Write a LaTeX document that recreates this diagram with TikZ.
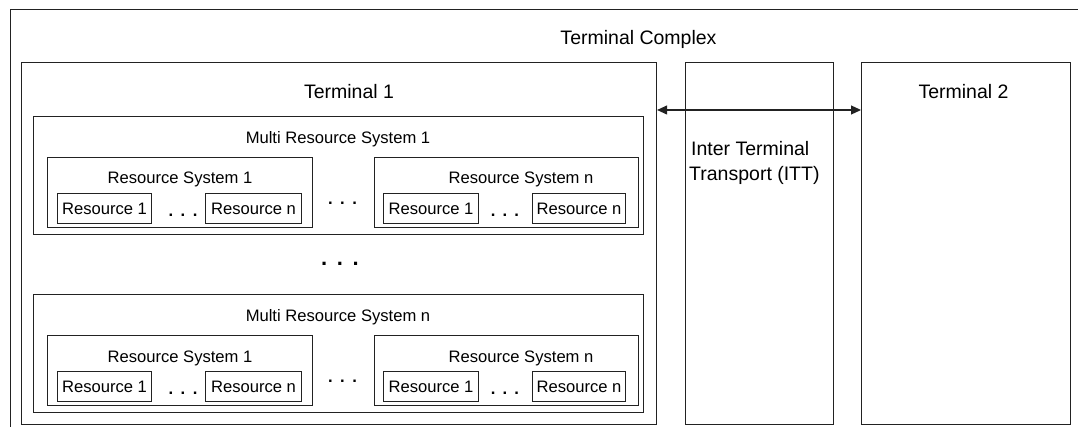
\documentclass[tikz,border=0pt]{standalone}
\usepackage{fontspec}
\setmainfont{Liberation Sans}
\usetikzlibrary{arrows.meta}

\definecolor{linegray}{HTML}{222222}

\tikzset{
  frame/.style={draw=linegray, line width=1.1pt, inner sep=0pt, anchor=north west},
  bigtext/.style={inner sep=0pt, anchor=base, font=\fontsize{19.5}{23}\selectfont},
  smalltext/.style={inner sep=0pt, anchor=base, font=\fontsize{16.6}{20}\selectfont},
  restext/.style={smalltext, anchor=center},
  ellip/.style={inner sep=0pt, anchor=center, font=\bfseries\fontsize{16.6}{20}\selectfont},
  bigellip/.style={inner sep=0pt, anchor=center, font=\bfseries\fontsize{22}{24}\selectfont},
  link/.style={draw=linegray, line width=1.1pt, {Triangle[length=10pt,width=9pt]}-{Triangle[length=10pt,width=9pt]}}
}

% three spaced periods
\newcommand{\spdots}[1]{.\kern#1.\kern#1.}

\begin{document}
\begin{tikzpicture}[x=1pt, y=-1pt]
  \clip (0,0) rectangle (1078,427);

  % terminal complex (runs past the right and bottom edges)
  \node[frame, minimum width=1100pt, minimum height=440pt] (tc) at (10,9) {};
  \node[bigtext] (tclabel) at (638.5,45) {Terminal Complex};

  % terminal 1, inter terminal transport, terminal 2
  \node[frame, minimum width=635pt, minimum height=362pt] (t1) at (21,62) {};
  \node[frame, minimum width=148pt, minimum height=362pt] (itt) at (685,62) {};
  \node[frame, minimum width=209pt, minimum height=362pt] (t2) at (861,62) {};
  \node[bigtext] (t1label) at (349,99) {Terminal 1};
  \node[bigtext] (t2label) at (963.5,99) {Terminal 2};
  \node[bigtext, anchor=base west] (ittlabela) at (691,156) {Inter Terminal};
  \node[bigtext, anchor=base west] (ittlabelb) at (689,181) {Transport (ITT)};

  % link between the terminals
  \coordinate (ay) at (0,110);
  \draw[link] (t1.east |- ay) -- (t2.west |- ay);

  % multi resource system 1
  \node[frame, minimum width=610pt, minimum height=118pt] (mrsa) at (33,116) {};
  \node[smalltext] (mrsalabel) at (338,144) {Multi Resource System 1};
  \node[frame, minimum width=265pt, minimum height=70pt] (rsaa) at (47,157) {};
  \node[frame, minimum width=264pt, minimum height=70pt] (rsan) at (374,157) {};
  \node[smalltext] (rsaalabel) at (180,184) {Resource System 1};
  \node[smalltext] (rsanlabel) at (521,184) {Resource System n};
  \node[frame, minimum width=94pt, minimum height=30pt] (raa1) at (57,193) {};
  \node[frame, minimum width=96pt, minimum height=30pt] (raan) at (205,193) {};
  \node[frame, minimum width=95pt, minimum height=30pt] (ran1) at (383,193) {};
  \node[frame, minimum width=93pt, minimum height=30pt] (rann) at (532,193) {};
  \node[restext] at (raa1) {Resource 1};
  \node[restext] at (raan) {Resource n};
  \node[restext] at (ran1) {Resource 1};
  \node[restext] at (rann) {Resource n};
  \node[ellip] (dotsaa) at (183,215) {\spdots{7.5pt}};
  \node[ellip] (dotsan) at (505,215) {\spdots{7.1pt}};
  \node[ellip] (dotsa) at (342.5,203) {\spdots{7.5pt}};

  % gap between multi resource systems
  \node[bigellip] (dotsmid) at (340,264) {\spdots{9.6pt}};

  % multi resource system n
  \node[frame, minimum width=610pt, minimum height=118pt] (mrsn) at (33,294) {};
  \node[smalltext] (mrsnlabel) at (338,322) {Multi Resource System n};
  \node[frame, minimum width=265pt, minimum height=70pt] (rsna) at (47,335) {};
  \node[frame, minimum width=264pt, minimum height=70pt] (rsnn) at (374,335) {};
  \node[smalltext] (rsnalabel) at (180,362) {Resource System 1};
  \node[smalltext] (rsnnlabel) at (521,362) {Resource System n};
  \node[frame, minimum width=94pt, minimum height=30pt] (rna1) at (57,371) {};
  \node[frame, minimum width=96pt, minimum height=30pt] (rnan) at (205,371) {};
  \node[frame, minimum width=95pt, minimum height=30pt] (rnn1) at (383,371) {};
  \node[frame, minimum width=93pt, minimum height=30pt] (rnnn) at (532,371) {};
  \node[restext] at (rna1) {Resource 1};
  \node[restext] at (rnan) {Resource n};
  \node[restext] at (rnn1) {Resource 1};
  \node[restext] at (rnnn) {Resource n};
  \node[ellip] (dotsna) at (183,393) {\spdots{7.5pt}};
  \node[ellip] (dotsnn) at (505,393) {\spdots{7.1pt}};
  \node[ellip] (dotsn) at (342.5,381) {\spdots{7.5pt}};
\end{tikzpicture}
\end{document}
